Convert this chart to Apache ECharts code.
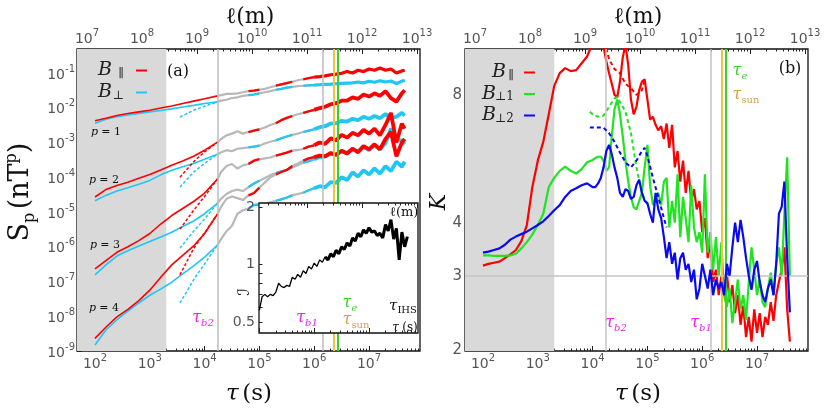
<!DOCTYPE html>
<html><head><meta charset="utf-8">
<script src="https://cdn.jsdelivr.net/npm/echarts@6/dist/echarts.min.js"></script>
<style>html,body{margin:0;padding:0;background:#fff;}#c{width:831px;height:408px;}</style>
</head><body><div id="c"></div>
<script>
// ---------------- DATA ----------------
// Panel (a): structure functions S_p(tau), tau in seconds
const tauIn = [100,158,251,398,631,1000,1585,2512,3981,6310,1e4,1.72e4];
const tauDash = [3550,6310,1e4,1.72e4];
const tauOut = [1.72e4,2.0e4,2.51e4,3.16e4,3.98e4,5.01e4,6.31e4,7.94e4,
  1e5,1.26e5,1.58e5,2.0e5,2.51e5,3.16e5,3.98e5,5.01e5,6.31e5,7.94e5,
  1e6,1.26e6,1.58e6,2.0e6,2.51e6,3.16e6,3.98e6,5.01e6,6.31e6,7.94e6,
  1e7,1.26e7,1.58e7,2.0e7,2.51e7,3.16e7,3.98e7,4.47e7];
const outerEarly = [0,0,0,0,0,0,1,1,1,0,0,1,1,1,1,0,1,1,1,0,0,0,0,0,0,0,0,0,0,0,0,0,0,0,0,0];
const outerLate  = [0,0,0,0,0,0,0,0,0,0,0,0,0,0,0,0,0,0,1,1,1,1,1,1,1,1,1,1,1,1,1,1,1,1,1,1];

const sPar1In  = [4.2e-3,5.0e-3,6.0e-3,6.8e-3,7.6e-3,8.5e-3,9.8e-3,1.12e-2,1.32e-2,1.55e-2,1.82e-2,2.2e-2];
const sPerp1In = [3.6e-3,4.7e-3,5.5e-3,6.2e-3,6.9e-3,7.6e-3,8.3e-3,9.3e-3,1.05e-2,1.17e-2,1.32e-2,1.48e-2];
const sPerp1Dash = [5.4e-3,8.5e-3,1.1e-2,1.48e-2];
const sPar1Out = [2.2e-2,2.3e-2,2.5e-2,2.5e-2,2.6e-2,2.8e-2,3.0e-2,3.1e-2,3.3e-2,3.5e-2,3.9e-2,4.3e-2,4.7e-2,5.1e-2,5.6e-2,6.2e-2,6.6e-2,7.1e-2,7.6e-2,7.9e-2,8.3e-2,8.9e-2,9.3e-2,9.8e-2,0.11,0.10,0.12,0.11,0.13,0.12,0.14,0.12,0.13,0.10,0.115,0.12];
const sPerp1Out = [1.5e-2,1.6e-2,1.7e-2,1.9e-2,2.0e-2,2.2e-2,2.3e-2,2.4e-2,2.6e-2,2.8e-2,3.0e-2,3.3e-2,3.5e-2,3.8e-2,4.0e-2,4.2e-2,4.3e-2,4.4e-2,4.5e-2,4.6e-2,4.7e-2,4.8e-2,4.9e-2,5.0e-2,5.1e-2,5.2e-2,5.5e-2,5.2e-2,5.8e-2,5.4e-2,6.0e-2,5.5e-2,5.9e-2,5.0e-2,5.8e-2,6.2e-2];

const sPar2In  = [2.7e-5,4.4e-5,5.8e-5,7.2e-5,9.3e-5,1.2e-4,1.62e-4,2.2e-4,2.95e-4,4.0e-4,6.0e-4,1.02e-3];
const sPerp2In = [2.1e-5,3.0e-5,4.0e-5,5.0e-5,6.3e-5,8.1e-5,1.17e-4,1.58e-4,2.0e-4,2.5e-4,3.3e-4,4.6e-4];
const sPar2Dash  = [1.0e-4,2.8e-4,5.4e-4,1.02e-3];
const sPerp2Dash = [5.2e-5,1.41e-4,2.5e-4,4.6e-4];
const sPar2Out = [1.0e-3,1.26e-3,1.6e-3,1.8e-3,2.1e-3,1.8e-3,2.0e-3,2.2e-3,2.4e-3,2.7e-3,3.2e-3,3.6e-3,4.4e-3,5.1e-3,5.8e-3,6.5e-3,7.1e-3,7.9e-3,8.7e-3,9.8e-3,1.07e-2,1.26e-2,1.35e-2,1.6e-2,1.6e-2,2.0e-2,1.8e-2,2.4e-2,2.1e-2,2.6e-2,2.2e-2,3.0e-2,1.9e-2,1.5e-2,2.6e-2,3.2e-2];
const sPerp2Out = [4.6e-4,5.2e-4,6.0e-4,5.6e-4,6.6e-4,6.9e-4,7.2e-4,7.6e-4,8.1e-4,9.3e-4,1.05e-3,1.15e-3,1.32e-3,1.48e-3,1.66e-3,1.8e-3,2.0e-3,2.2e-3,2.4e-3,2.75e-3,2.95e-3,3.5e-3,3.6e-3,4.2e-3,4.0e-3,4.8e-3,4.4e-3,5.5e-3,4.8e-3,5.8e-3,5.0e-3,6.6e-3,5.0e-3,5.5e-3,7.1e-3,6.0e-3];

const sPar3In  = [2.3e-7,4.0e-7,6.9e-7,1.0e-6,1.5e-6,2.4e-6,4.5e-6,7.9e-6,1.26e-5,2.0e-5,3.5e-5,8.9e-5];
const sPerp3In = [1.55e-7,3.0e-7,5.4e-7,7.6e-7,1.05e-6,1.41e-6,1.9e-6,2.6e-6,3.8e-6,5.5e-6,8.9e-6,1.78e-5];
const sPar3Dash  = [3.2e-6,1.12e-5,2.8e-5,8.9e-5];
const sPerp3Dash = [9.1e-7,2.8e-6,6.3e-6,1.78e-5];
const sPar3Out = [8.9e-5,1.41e-4,2.1e-4,2.4e-4,1.78e-4,2.2e-4,2.4e-4,3.0e-4,3.3e-4,3.5e-4,3.7e-4,4.2e-4,4.6e-4,5.1e-4,5.8e-4,6.0e-4,6.6e-4,7.6e-4,8.3e-4,1.0e-3,9.1e-4,1.32e-3,1.15e-3,1.66e-3,1.38e-3,1.9e-3,1.6e-3,2.3e-3,1.8e-3,2.5e-3,1.6e-3,3.2e-3,7.1e-3,1.0e-3,3.5e-3,2.5e-3];
const sPerp3Out = [1.78e-5,2.4e-5,3.3e-5,4.0e-5,4.4e-5,4.0e-5,5.2e-5,6.6e-5,7.9e-5,9.5e-5,1.15e-4,1.32e-4,1.48e-4,1.62e-4,1.9e-4,2.2e-4,2.6e-4,2.9e-4,3.3e-4,3.8e-4,4.0e-4,4.7e-4,4.6e-4,5.5e-4,5.0e-4,6.6e-4,5.5e-4,7.6e-4,6.0e-4,8.3e-4,6.3e-4,9.5e-4,2.5e-3,1.26e-3,1.12e-3,8.9e-4];

const sPar4In  = [2.3e-9,4.8e-9,9.5e-9,1.58e-8,2.8e-8,5.6e-8,1.32e-7,3.0e-7,5.6e-7,1.05e-6,2.4e-6,8.7e-6];
const sPerp4In = [1.48e-9,4.0e-9,7.9e-9,1.41e-8,2.4e-8,4.0e-8,6.0e-8,9.5e-8,1.66e-7,2.8e-7,5.0e-7,1.12e-6];
const sPar4Dash  = [1.55e-7,8.9e-7,2.5e-6,8.7e-6];
const sPerp4Dash = [2.4e-8,1.12e-7,3.2e-7,1.12e-6];
const sPar4Out = [8.7e-6,1.41e-5,2.4e-5,2.8e-5,2.5e-5,2.2e-5,3.0e-5,3.5e-5,5.0e-5,7.1e-5,1.0e-4,1.2e-4,1.41e-4,1.62e-4,2.1e-4,2.5e-4,3.0e-4,3.5e-4,3.8e-4,4.2e-4,4.0e-4,5.0e-4,4.4e-4,5.8e-4,4.8e-4,6.6e-4,5.2e-4,7.9e-4,6.3e-4,8.9e-4,6.3e-4,1.26e-3,2.0e-3,4.0e-4,1.0e-3,1.26e-3];
const sPerp4Out = [1.12e-6,1.66e-6,2.8e-6,4.0e-6,8.9e-6,1.12e-5,1.26e-5,1.58e-5,1.66e-5,1.74e-5,1.9e-5,2.1e-5,2.3e-5,2.6e-5,3.0e-5,3.3e-5,3.6e-5,4.2e-5,4.8e-5,5.5e-5,5.2e-5,7.2e-5,6.9e-5,1.0e-4,8.3e-5,1.38e-4,1.05e-4,1.58e-4,1.2e-4,1.8e-4,1.26e-4,2.1e-4,1.51e-4,2.8e-4,2.0e-4,2.8e-4];

// shared fine tau grid (1e4 .. 5.01e7)
const tauFine = [1e4,1.12e4,1.26e4,1.41e4,1.58e4,1.78e4,2e4,2.24e4,2.51e4,2.82e4,3.16e4,3.55e4,3.98e4,4.47e4,5.01e4,5.62e4,6.31e4,7.08e4,7.94e4,8.91e4,
  1e5,1.12e5,1.26e5,1.41e5,1.58e5,1.78e5,2e5,2.24e5,2.51e5,2.82e5,3.16e5,3.55e5,3.98e5,4.47e5,5.01e5,5.62e5,6.31e5,7.08e5,7.94e5,8.91e5,
  1e6,1.12e6,1.26e6,1.41e6,1.58e6,1.78e6,2e6,2.24e6,2.51e6,2.82e6,3.16e6,3.55e6,3.98e6,4.47e6,5.01e6,5.62e6,6.31e6,7.08e6,7.94e6,8.91e6,
  1e7,1.12e7,1.26e7,1.41e7,1.58e7,1.78e7,2e7,2.24e7,2.51e7,2.82e7,3.16e7,3.55e7,3.98e7,4.47e7,5.01e7];
const tauCoarse = [100,126,158,200,251,316,398,501,631,794,1000,1259,1585,1995,2512,3162,3981,5012,6310,7943];

// Inset: intermittency index I(tau), tau from 1e5 to 5e7
const iInset = [0.58,0.68,0.70,0.68,0.70,0.69,0.72,0.80,0.77,0.76,0.78,0.77,0.86,0.84,0.89,0.86,0.93,0.90,0.98,0.95,
  1.02,0.98,1.06,1.03,1.10,1.06,1.14,1.10,1.19,1.14,1.24,1.20,1.30,1.25,1.38,1.33,1.46,1.40,1.52,1.46,
  1.56,1.48,1.50,1.42,1.46,1.38,1.62,1.50,1.72,1.36,1.55,1.06,1.48,1.24,1.40];

// Panel (b): kurtosis K(tau)
const kPar = [3.17,3.20,3.22,3.24,3.30,3.37,3.45,3.62,3.95,4.85,5.6,6.2,7.2,8.4,9.0,9.25,9.1,9.15,9.5,9.85,
  10.6,11.0,11.0,10.8,10.4,9.6,9.0,8.5,8.0,7.9,8.6,9.8,10.5,9.4,7.8,7.2,7.5,8.2,8.6,8.7,
  7.8,7.0,7.1,6.8,6.6,6.75,6.3,6.85,6.0,6.8,5.4,5.9,5.0,5.6,4.7,5.3,4.5,4.8,4.3,4.5,
  3.8,4.1,3.3,3.6,2.9,3.1,2.7,3.0,2.75,3.05,2.6,2.85,2.45,2.7,2.3,2.55,2.15,2.4,2.1,2.5,
  2.2,2.45,2.15,2.4,2.3,2.6,2.35,2.7,2.9,3.1,3.5,2.5,2.1];
const kPerp1 = [3.35,3.35,3.34,3.34,3.34,3.35,3.38,3.48,3.6,3.75,3.95,4.2,4.85,5.1,5.3,5.42,5.3,5.22,5.35,5.55,
  5.62,5.68,5.72,5.72,5.6,5.3,5.4,6.4,7.4,7.8,7.2,6.4,5.6,5.0,4.6,4.35,4.3,4.5,4.7,5.4,
  6.1,4.9,4.4,4.6,4.7,4.4,5.0,5.1,3.9,4.5,4.0,5.2,3.7,4.6,4.1,3.6,4.9,3.9,3.6,3.8,
  3.4,5.2,3.4,3.8,3.1,3.7,3.0,3.6,2.7,2.53,2.8,2.32,2.6,2.94,2.5,2.7,2.36,2.9,3.5,3.1,
  2.7,2.94,2.6,2.53,2.8,3.05,2.7,3.2,3.5,3.0,4.2,5.7,3.0];
const kPerp2 = [3.40,3.42,3.45,3.48,3.55,3.65,3.71,3.76,3.81,3.88,3.95,4.03,4.15,4.28,4.4,4.6,4.75,4.82,4.9,4.95,
  4.85,4.85,4.95,5.1,5.4,5.9,6.1,5.8,5.4,5.1,4.7,4.6,4.8,4.75,4.55,4.6,4.9,5.05,4.7,4.5,
  4.45,4.2,4.0,4.7,4.3,4.1,3.7,3.3,3.6,3.2,3.4,2.94,3.3,3.4,3.1,3.2,2.9,3.1,2.64,2.8,
  3.2,3.0,2.8,3.1,2.7,2.94,2.8,2.9,2.7,3.2,3.0,3.5,4.0,3.6,4.06,3.7,3.3,3.0,2.78,3.1,
  3.25,2.9,2.7,2.6,2.8,2.94,2.7,3.2,4.2,4.36,5.0,3.3,2.46];
const tauDashR = [1.78e4,2.0e4,2.51e4,3.16e4,3.98e4,5.01e4,6.31e4,7.94e4,8.91e4];
const kParDash = [10.3,9.7,9.2,9.0,8.5,8.3,8.0,8.2,8.7];
const tauDashG = [8.91e3,1e4,1.26e4,1.58e4,2e4,2.51e4,2.82e4,3.16e4,3.98e4,5.01e4,6.31e4,7.94e4,1e5];
const kPerp1Dash = [7.3,7.2,7.1,7.15,7.5,7.85,7.9,7.7,7.3,6.5,5.4,4.7,4.4];
const tauDashB = [8.91e3,1e4,1.26e4,1.58e4,2e4,2.51e4,3.16e4,3.98e4,5.01e4,6.31e4,7.94e4,8.91e4,1e5,1.26e5,1.58e5,2e5,2.24e5];
const kPerp2Dash = [6.7,6.7,6.7,6.7,6.5,6.2,5.85,5.55,5.4,5.6,5.9,6.0,5.75,5.1,4.6,4.1,3.9];

// characteristic scales (s)
const tauShade = 2000, tauB2 = 1.72e4, tauB1 = 1.42e6, tauSun = 2.25e6, tauE = 2.65e6, tauIHS = 3.4e7;

// tick label values
const tauMajor = [1e2,1e3,1e4,1e5,1e6,1e7];
const lMajor = [1e7,1e8,1e9,1e10,1e11,1e12,1e13];
const sMajor = [1e-9,1e-8,1e-7,1e-6,1e-5,1e-4,1e-3,1e-2,1e-1];
const kLabels = [2,3,4,8];
const kMinor = [5,6,7,9,10];
const iTicks = [0.5,0.6,0.7,0.8,0.9,1,2];
const iLabels = [0.5,1,2];

// ---------------- CHART ----------------
const tauMin = 46.95, tauMax = 8.52e7, lMin = 6.58e6, lMax = 1.13e13;
const inTauMin = 9.84e4, inTauMax = 7.83e7, inLMin = 1.34e10, inLMax = 1.04e13;
function minorTicks(lo, hi){ const o=[]; for(let e=lo;e<hi;e++) for(let m=2;m<=9;m++) o.push(+(m*Math.pow(10,e)).toPrecision(3)); return o; }
const tauMinor = minorTicks(1,8), lMinor = minorTicks(6,13), sMinor = minorTicks(-10,0);

const RED='#ff0000', CYAN='#1fc6f6', GRAY='#b8b8b8', GREEN='#22e322', BLUE='#0a0af0', YEL='#f4c23e', VGREEN='#3fcc2e', MAG='#ee22ee';
const pairs=(xs,ys)=>xs.map((x,i)=>[x,ys[i]]);
const masked=(xs,ys,m)=>xs.map((x,i)=>m[i]?[x,ys[i]]:[x,'-']);

const supRich = {
  b:{fontSize:14,fontFamily:'DejaVu Sans',color:'#555',lineHeight:18,verticalAlign:'bottom'},
  s:{fontSize:10,fontFamily:'DejaVu Sans',color:'#555',lineHeight:18,verticalAlign:'top'}
};
const supFmt = v => '{b|10}{s|' + Math.round(Math.log10(v)) + '}';
const tickLine = {color:'#222',width:1};

function ax(o){ return Object.assign({type:'log',logBase:10,splitLine:{show:false},axisLine:{show:false},minorTick:{show:false},minorSplitLine:{show:false},axisPointer:{show:false}},o); }
function majorX(grid,pos,min,max,vals,labels,z){
  return ax({gridIndex:grid,position:pos,min,max,z:z||0,
    axisTick:{show:true,inside:true,length:5,customValues:vals,lineStyle:tickLine},
    axisLabel:labels?{show:true,customValues:vals,formatter:supFmt,rich:supRich,margin:pos==='top'?3:2}:{show:false}});
}
function minorX(grid,pos,min,max,vals,z){
  return ax({gridIndex:grid,position:pos,min,max,z:z||0,
    axisTick:{show:true,inside:true,length:2.5,customValues:vals,lineStyle:tickLine},axisLabel:{show:false}});
}

const xAxis = [
  majorX(0,'bottom',tauMin,tauMax,tauMajor,true), minorX(0,'bottom',tauMin,tauMax,tauMinor),
  majorX(0,'top',lMin,lMax,lMajor,true), minorX(0,'top',lMin,lMax,lMinor),
  majorX(1,'bottom',tauMin,tauMax,tauMajor,true), minorX(1,'bottom',tauMin,tauMax,tauMinor),
  majorX(1,'top',lMin,lMax,lMajor,true), minorX(1,'top',lMin,lMax,lMinor),
  majorX(2,'bottom',inTauMin,inTauMax,tauMajor,false,12), minorX(2,'bottom',inTauMin,inTauMax,tauMinor,12),
  majorX(2,'top',inLMin,inLMax,lMajor,false,12), minorX(2,'top',inLMin,inLMax,lMinor,12)
];
const yAxis = [
  ax({gridIndex:0,position:'left',min:0.995e-9,max:0.491,
    axisTick:{show:true,inside:true,length:5,customValues:sMajor,lineStyle:tickLine},
    axisLabel:{show:true,customValues:sMajor,formatter:supFmt,rich:supRich,margin:2}}),
  ax({gridIndex:0,position:'left',min:0.995e-9,max:0.491,
    axisTick:{show:true,inside:true,length:2.5,customValues:sMinor,lineStyle:tickLine},axisLabel:{show:false}}),
  ax({gridIndex:1,position:'left',min:1.995,max:10.26,
    axisTick:{show:true,inside:true,length:5,customValues:kLabels,lineStyle:tickLine},
    axisLabel:{show:true,customValues:kLabels,formatter:v=>String(Math.round(v)),fontSize:15,fontFamily:'DejaVu Sans',color:'#555',margin:3}}),
  ax({gridIndex:1,position:'left',min:1.995,max:10.26,
    axisTick:{show:true,inside:true,length:2.5,customValues:kMinor,lineStyle:tickLine},axisLabel:{show:false}}),
  ax({gridIndex:2,position:'left',min:0.44,max:2.1,z:12,
    axisTick:{show:true,inside:true,length:3.5,customValues:iTicks,lineStyle:tickLine},
    axisLabel:{show:true,customValues:iLabels,formatter:v=>String(v),fontSize:14,fontFamily:'DejaVu Sans',color:'#555',margin:4}})
];

function line(name,data,color,o){
  return Object.assign({type:'line',name,data,xAxisIndex:0,yAxisIndex:0,symbol:'none',showSymbol:false,silent:true,
    animation:false,z:3,lineStyle:{color,width:1.5},itemStyle:{color},emphasis:{disabled:true}},o||{});
}
const series = [];
// panel (a) helper: shading + vertical lines
series.push({type:'line',name:'markA',data:[],xAxisIndex:0,yAxisIndex:0,z:1,silent:true,animation:false,
  markArea:{silent:true,itemStyle:{color:'#d9d9d9'},data:[[{xAxis:tauMin},{xAxis:tauShade}]]},
  markLine:{silent:true,symbol:'none',label:{show:false},animation:false,data:[
    {xAxis:tauB2,lineStyle:{color:'#bdbdbd',width:1.5,type:'solid'}},
    {xAxis:tauB1,lineStyle:{color:'#bdbdbd',width:1.5,type:'solid'}},
    {xAxis:tauSun,lineStyle:{color:YEL,width:2,type:'solid'}},
    {xAxis:tauE,lineStyle:{color:VGREEN,width:2,type:'solid'}}]}});

const leftSets = [
  [sPar1In,null,sPar1Out,sPerp1In,sPerp1Dash,sPerp1Out],
  [sPar2In,sPar2Dash,sPar2Out,sPerp2In,sPerp2Dash,sPerp2Out],
  [sPar3In,sPar3Dash,sPar3Out,sPerp3In,sPerp3Dash,sPerp3Out],
  [sPar4In,sPar4Dash,sPar4Out,sPerp4In,sPerp4Dash,sPerp4Out]
];
leftSets.forEach((s,k)=>{
  const [pIn,pDash,pOut,qIn,qDash,qOut]=s;
  const wLate = k===0?3.2:3.8;
  series.push(line('g'+k+'a',pairs(tauOut,pOut),GRAY,{z:2,lineStyle:{color:GRAY,width:2.2}}));
  series.push(line('g'+k+'b',pairs(tauOut,qOut),GRAY,{z:2,lineStyle:{color:GRAY,width:2.2}}));
  series.push(line('Bperp',pairs(tauIn,qIn),CYAN,{z:3,lineStyle:{color:CYAN,width:1.6}}));
  if(qDash) series.push(line('cd'+k,pairs(tauDash,qDash),CYAN,{z:3,lineStyle:{color:CYAN,width:1.5,type:[3,2]}}));
  series.push(line('ce'+k,masked(tauOut,qOut,outerEarly),CYAN,{z:3,lineStyle:{color:CYAN,width:2.2}}));
  series.push(line('cl'+k,masked(tauOut,qOut,outerLate),CYAN,{z:3,lineStyle:{color:CYAN,width:wLate}}));
  series.push(line('Bpar',pairs(tauIn,pIn),RED,{z:4,lineStyle:{color:RED,width:1.6}}));
  if(pDash) series.push(line('rd'+k,pairs(tauDash,pDash),RED,{z:4,lineStyle:{color:RED,width:1.5,type:[3,2]}}));
  series.push(line('re'+k,masked(tauOut,pOut,outerEarly),RED,{z:4,lineStyle:{color:RED,width:2.3}}));
  series.push(line('rl'+k,masked(tauOut,pOut,outerLate),RED,{z:4,lineStyle:{color:RED,width:wLate}}));
});

// panel (b)
const tauK = tauCoarse.concat(tauFine.slice(0,73));
series.push({type:'line',name:'markB',data:[],xAxisIndex:4,yAxisIndex:2,z:1,silent:true,animation:false,
  markArea:{silent:true,itemStyle:{color:'#d9d9d9'},data:[[{xAxis:tauMin},{xAxis:tauShade}]]},
  markLine:{silent:true,symbol:'none',label:{show:false},animation:false,data:[
    {xAxis:tauB2,lineStyle:{color:'#c4c4c4',width:1.5,type:'solid'}},
    {xAxis:tauB1,lineStyle:{color:'#c4c4c4',width:1.5,type:'solid'}},
    {yAxis:3,lineStyle:{color:'#c4c4c4',width:1.5,type:'solid'}},
    {xAxis:tauSun,lineStyle:{color:YEL,width:2,type:'solid'}},
    {xAxis:tauE,lineStyle:{color:VGREEN,width:2,type:'solid'}}]}});
const rb = {xAxisIndex:4,yAxisIndex:2};
series.push(line('Kpar',pairs(tauK,kPar),RED,Object.assign({z:3,lineStyle:{color:RED,width:2.2}},rb)));
series.push(line('kpd',pairs(tauDashR,kParDash),RED,Object.assign({z:3,lineStyle:{color:RED,width:2,type:[4,3]}},rb)));
series.push(line('Kperp1',pairs(tauK,kPerp1),GREEN,Object.assign({z:4,lineStyle:{color:GREEN,width:2.2}},rb)));
series.push(line('kp1d',pairs(tauDashG,kPerp1Dash),GREEN,Object.assign({z:4,lineStyle:{color:GREEN,width:2,type:[4,3]}},rb)));
series.push(line('Kperp2',pairs(tauK,kPerp2),BLUE,Object.assign({z:5,lineStyle:{color:BLUE,width:2.2}},rb)));
series.push(line('kp2d',pairs(tauDashB,kPerp2Dash),BLUE,Object.assign({z:5,lineStyle:{color:BLUE,width:2,type:[4,3]}},rb)));

// inset
series.push({type:'line',name:'markI',data:[],xAxisIndex:8,yAxisIndex:4,z:12,silent:true,animation:false,
  markLine:{silent:true,symbol:'none',label:{show:false},animation:false,data:[
    {xAxis:tauB1,lineStyle:{color:'#c4c4c4',width:1.5,type:'solid'}},
    [{coord:[tauIHS,0.58]},{coord:[tauIHS,1.5],lineStyle:{color:'#c4c4c4',width:1.5,type:'solid'}}],
    {xAxis:tauSun,lineStyle:{color:YEL,width:2,type:'solid'}},
    {xAxis:tauE,lineStyle:{color:VGREEN,width:2,type:'solid'}},
    {yAxis:1,lineStyle:{color:'#1a1aff',width:1.8,type:'solid'}}]}});
const tauInset = tauFine.slice(20,75);
const insetEarly = tauInset.map((t,i)=>i<=24?1:0), insetLate = tauInset.map((t,i)=>i>=24?1:0);
series.push(line('insetA',masked(tauInset,iInset,insetEarly),'#000',{xAxisIndex:8,yAxisIndex:4,z:13,lineStyle:{color:'#000',width:1.3}}));
series.push(line('insetB',masked(tauInset,iInset,insetLate),'#000',{xAxisIndex:8,yAxisIndex:4,z:13,lineStyle:{color:'#000',width:3}}));

// ---------------- TEXT ----------------
const SERIF='DejaVu Serif';
function txt(x,y,text,rich,extra){
  return Object.assign({type:'text',x,y,z:60,silent:true,style:{text,rich,align:'center',verticalAlign:'middle'}},extra||{});
}
function tauLabel(x,y,sub,color,subItalic,size){
  size=size||16;
  return txt(x,y,'{t|τ}{s|'+sub+'}',{
    t:{fontFamily:SERIF,fontStyle:'italic',fontSize:size,fill:color,lineHeight:size+4,verticalAlign:'middle'},
    s:{fontFamily:SERIF,fontStyle:subItalic?'italic':'normal',fontSize:Math.round(size*0.64),fill:color,lineHeight:size+4,verticalAlign:'bottom'}});
}
const mainR = {
  a:{fontFamily:SERIF,fontSize:22,fill:'#111'},
  i:{fontFamily:SERIF,fontStyle:'italic',fontSize:22,fill:'#111'}
};
const pR = {i:{fontFamily:SERIF,fontStyle:'italic',fontSize:11,fill:'#111'},a:{fontFamily:SERIF,fontSize:11,fill:'#111'}};
const tsR = {a:{fontFamily:SERIF,fontSize:23,fill:'#111'},i:{fontFamily:SERIF,fontStyle:'italic',fontSize:23,fill:'#111'}};
const graphic = [
  txt(250,17,'{a|ℓ(m)}',mainR), txt(638,17,'{a|ℓ(m)}',mainR),
  txt(249,394,'{i|τ} {a|(s)}',tsR), txt(638,394,'{i|τ} {a|(s)}',tsR),
  txt(21,192,'{a|S}{b|p} {a|(nT}{c|p}{a|)}',{
    a:{fontFamily:SERIF,fontSize:27,fill:'#111',lineHeight:34},
    b:{fontFamily:SERIF,fontSize:16,fill:'#111',lineHeight:34,verticalAlign:'bottom'},
    c:{fontFamily:SERIF,fontSize:16,fill:'#111',lineHeight:34,verticalAlign:'top'}},{rotation:Math.PI/2}),
  txt(439,202,'{i|K}',{i:{fontFamily:SERIF,fontStyle:'italic',fontSize:22,fill:'#111'}},{rotation:Math.PI/2}),
  txt(178,72,'{a|(a)}',{a:{fontFamily:SERIF,fontSize:16,fill:'#111'}}),
  txt(790,69,'{a|(b)}',{a:{fontFamily:SERIF,fontSize:16,fill:'#111'}}),
  txt(106,132,'{i|p} {a|= 1}',pR), txt(104,180,'{i|p} {a|= 2}',pR),
  txt(105,245,'{i|p} {a|= 3}',pR), txt(104,308,'{i|p} {a|= 4}',pR),
  tauLabel(203,318,'b2',MAG,true), tauLabel(307,318,'b1',MAG,true),
  tauLabel(350,303,'e',VGREEN,true), tauLabel(356,320,'sun','#d4a24a',false),
  tauLabel(403,306,'IHS','#111',false,15),
  txt(404,213,'{a|ℓ(m)}',{a:{fontFamily:SERIF,fontSize:13,fill:'#111'}}),
  txt(405,328,'{i|τ} {a|(s)}',{i:{fontFamily:SERIF,fontStyle:'italic',fontSize:12,fill:'#111'},a:{fontFamily:SERIF,fontSize:12,fill:'#111'}}),
  txt(245,292,'{a|ℐ}',{a:{fontFamily:'DejaVu Sans',fontSize:16,fill:'#111'}},{rotation:Math.PI/2}),
  tauLabel(740,71,'e',VGREEN,true), tauLabel(746,95,'sun','#d4a24a',false),
  tauLabel(616,323,'b2',MAG,true), tauLabel(701,323,'b1',MAG,true)
];

const legRichL = {
  b:{fontFamily:SERIF,fontStyle:'italic',fontSize:19,color:'#222',lineHeight:18},
  s:{fontFamily:SERIF,fontSize:12,color:'#222',lineHeight:18,verticalAlign:'bottom',width:12,padding:[0,7,0,0]}
};
const legRichR = {
  sp:{width:10,lineHeight:18},
  b:{fontFamily:SERIF,fontStyle:'italic',fontSize:19,color:'#222',lineHeight:18},
  s:{fontFamily:SERIF,fontSize:12,color:'#222',lineHeight:18,verticalAlign:'bottom',width:18,padding:[0,5,0,0]},
  s2:{fontFamily:SERIF,fontSize:12,color:'#222',lineHeight:18,verticalAlign:'bottom',width:8,padding:[0,5,0,0]}
};
const legNames = {Bpar:'{b|B}{s|∥}',Bperp:'{b|B}{s|⊥}',Kpar:'{sp|}{b|B}{s2|∥}',Kperp1:'{b|B}{s|⊥1}',Kperp2:'{b|B}{s|⊥2}'};

const chart = echarts.init(document.getElementById('c'),null,{renderer:'canvas'});
chart.setOption({
  animation:false,
  backgroundColor:'#fff',
  grid:[
    {left:77,top:49,width:343,height:302,show:true,borderColor:'#111',borderWidth:1.3,backgroundColor:'rgba(0,0,0,0)',containLabel:false},
    {left:465,top:49,width:343,height:302,show:true,borderColor:'#111',borderWidth:1.3,backgroundColor:'rgba(0,0,0,0)',containLabel:false},
    {left:259,top:203,width:159,height:130,show:true,borderColor:'#111',borderWidth:1.3,backgroundColor:'#fff',z:10,containLabel:false}
  ],
  legend:[
    {data:['Bpar','Bperp'],left:93,top:56,orient:'vertical',align:'right',itemGap:3,itemWidth:11,itemHeight:2,icon:'rect',selectedMode:false,
      formatter:n=>legNames[n],textStyle:{rich:legRichL}},
    {data:['Kpar','Kperp1','Kperp2'],left:477,top:58,orient:'vertical',align:'right',itemGap:2.5,itemWidth:11,itemHeight:2,icon:'rect',selectedMode:false,
      formatter:n=>legNames[n],textStyle:{rich:legRichR}}
  ],
  xAxis, yAxis, series, graphic
});
</script></body></html>
